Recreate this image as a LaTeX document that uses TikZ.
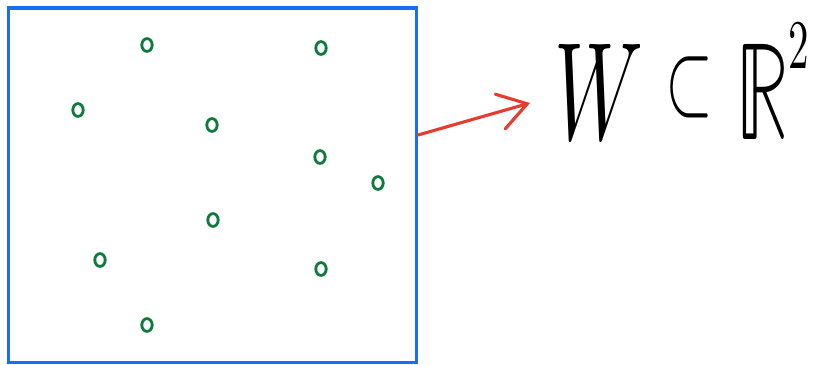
\documentclass[tikz,border=0pt]{standalone}
\usepackage{unicode-math}
\setmathfont{Latin Modern Math}
\usepackage{tikz}
\usetikzlibrary{arrows.meta}
\definecolor{Frame}{HTML}{1A6EF5}
\definecolor{Pen}{HTML}{E63B2E}
\definecolor{Dot}{HTML}{0E7A3D}

\begin{document}
\begin{tikzpicture}[
    x=0.025cm,y=-0.025cm,
    plane/.style={draw=Frame,line width=2.2pt,minimum width=10.2cm,minimum height=8.85cm,inner sep=0pt},
    pt/.style={draw=Dot,line width=2pt},
    arrow/.style={-{Straight Barb[length=7mm,width=9mm,line cap=round]},line width=2.2pt,Pen,line cap=round},
    label/.style={font=\fontsize{99}{99}\selectfont,xscale=0.59,inner sep=0pt,anchor=base}
  ]
    \useasboundingbox (0,0) rectangle (817,364);
    \node[plane] (W) at (212.5,185) {};
    \foreach \x/\y [count=\i] in {147/45,321/48,78/110,212/125,320/157,378/183,213/220,100/260,321/269,147/325}
      \draw[pt] (\x,\y) ellipse (0.13cm and 0.16cm);
    \node[label] (set) at (682,139) {$W\mathrel{\raisebox{0.18em}{\scalebox{0.75}{$\subset$}}}\mathbb{R}^{\raisebox{0.14em}{$\scriptscriptstyle 2$}}$};
    \coordinate (from) at (417,135);
    \coordinate (tip) at (530,103);
    \draw[arrow] (W.east |- from) -- (tip);
  \end{tikzpicture}
\end{document}
